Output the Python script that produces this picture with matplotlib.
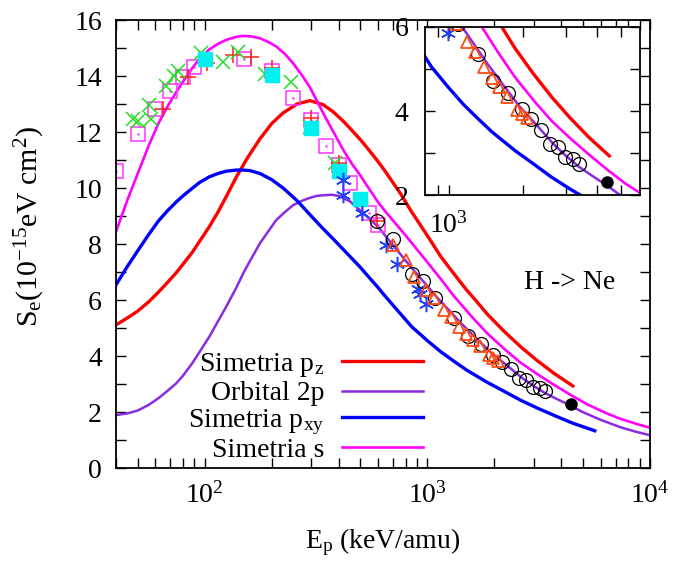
import matplotlib
matplotlib.use("Agg")
import matplotlib.pyplot as plt
from matplotlib.legend import Legend
from matplotlib.ticker import NullFormatter, FixedLocator

plt.rcParams["font.family"] = ["Liberation Serif", "DejaVu Serif"]
plt.rcParams["mathtext.fontset"] = "custom"
plt.rcParams["mathtext.rm"] = "Liberation Serif"
plt.rcParams["mathtext.it"] = "Liberation Serif:italic"
plt.rcParams["mathtext.default"] = "regular"

# ---- theoretical stopping curves (keV/amu, 1e-15 eV cm^2) ----
x_pz = [40, 45, 50, 56, 62, 68, 74.5, 80, 88, 95, 105, 115, 125, 139, 155, 177, 200,
        225, 260, 297, 340, 378, 420, 450, 500, 535, 600, 640, 700, 755, 850, 1000,
        1150, 1313, 1500, 1644, 1857, 2200, 2625, 3100, 3707, 4500]
y_pz = [5.11, 5.36, 5.6, 5.93, 6.28, 6.62, 6.97, 7.28, 7.7, 8.1, 8.62, 9.15, 9.69,
        10.4, 11.05, 11.75, 12.3, 12.68, 13.0, 13.12, 12.98, 12.72, 12.38, 12.13, 11.73,
        11.45, 10.95, 10.65, 10.2, 9.82, 9.15, 8.3, 7.55, 6.95, 6.36, 6.0, 5.5, 4.9,
        4.33, 3.85, 3.38, 2.93]

x_2p = [40, 45, 50, 56, 62, 68, 74.5, 80, 88, 95, 105, 115, 125, 139, 149, 160, 177,
        195, 210, 230, 250, 275, 297, 320, 342, 370, 400, 450, 516, 600, 681, 760, 850,
        1000, 1118, 1313, 1430, 1650, 1945, 2250, 2650, 3000, 3390, 3850, 4340, 4980,
        6000, 7400, 8600, 10000]
y_2p = [1.89, 1.95, 2.05, 2.25, 2.49, 2.75, 3.02, 3.3, 3.74, 4.15, 4.69, 5.25, 5.76,
        6.45, 6.95, 7.4, 8.02, 8.5, 8.86, 9.15, 9.39, 9.55, 9.65, 9.72, 9.74, 9.76,
        9.72, 9.52, 9.1, 8.62, 8.08, 7.62, 7.15, 6.5, 6.05, 5.46, 5.14, 4.65, 4.10,
        3.7, 3.23, 2.93, 2.67, 2.45, 2.25, 2.0, 1.72, 1.45, 1.3, 1.17]

x_pxy = [40, 45, 50, 56, 62, 68, 74.5, 80, 88, 95, 105, 115, 125, 139, 150, 160, 177,
         200, 225, 260, 297, 340, 378, 420, 450, 500, 535, 600, 640, 700, 755, 850,
         1000, 1150, 1313, 1500, 1857, 2200, 2625, 3100, 3707, 4500, 5650]
y_pxy = [6.54, 7.2, 7.75, 8.33, 8.82, 9.18, 9.5, 9.72, 9.99, 10.2, 10.4, 10.52, 10.6,
         10.64, 10.64, 10.62, 10.52, 10.3, 10.0, 9.55, 9.05, 8.55, 8.18, 7.8, 7.55,
         7.17, 6.9, 6.45, 6.18, 5.82, 5.52, 5.05, 4.55, 4.15, 3.82, 3.5, 3.06, 2.75,
         2.42, 2.15, 1.88, 1.6, 1.33]

x_s = [40, 45, 50, 56, 62, 68, 74.5, 80, 88, 95, 105, 115, 125, 139, 149, 160, 177,
       195, 210, 230, 250, 275, 297, 320, 350, 385, 420, 460, 500, 550, 600, 650, 700,
       800, 900, 1000, 1150, 1313, 1585, 1857, 2239, 2625, 3162, 3707, 4467, 5236,
       6310, 7400, 8913, 10000]
y_s = [8.44, 9.57, 10.5, 11.5, 12.3, 12.9, 13.42, 13.8, 14.28, 14.62, 14.95, 15.15,
       15.29, 15.4, 15.43, 15.42, 15.35, 15.2, 15.05, 14.78, 14.45, 14.0, 13.6, 13.1,
       12.5, 11.9, 11.35, 10.85, 10.45, 9.95, 9.5, 9.15, 8.85, 8.3, 7.8, 7.35, 6.75,
       6.15, 5.4, 4.81, 4.22, 3.76, 3.32, 2.97, 2.58, 2.27, 1.97, 1.75, 1.55, 1.44]

# ---- experimental data ----
x_sq = [40, 50, 60, 70, 80, 90, 150, 200, 250, 300, 350, 400, 450, 550, 600]
y_sq = [10.62, 11.92, 12.81, 13.48, 13.95, 14.31, 14.61, 14.19, 13.21, 12.43, 11.5,
        10.82, 10.17, 9.12, 8.68]

x_plus = [65, 84, 102, 134, 162, 200, 300, 400, 597]
y_plus = [12.81, 13.95, 14.45, 14.75, 14.67, 14.3, 12.49, 10.88, 8.83]

x_cross = [47.6, 50, 56, 57.5, 67, 72.5, 75.8, 96.6, 121, 141, 186, 244, 297, 385]
y_cross = [12.45, 12.4, 12.96, 12.45, 13.64, 14.0, 14.19, 14.81, 14.51, 14.87, 14.07,
           13.77, 12.19, 10.9]

x_cyan = [100, 200, 300, 400, 500]
y_cyan = [14.61, 14.04, 12.13, 10.62, 9.6]

x_star = [420, 420, 510, 655, 730, 905, 930, 990]
y_star = [10.3, 9.75, 9.12, 7.95, 7.28, 6.4, 6.2, 5.85]

x_circ = [597, 700, 850, 960, 1087, 1312, 1520, 1747, 1977, 2168, 2378, 2583, 2772,
          2970, 3207, 3390]
y_circ = [8.83, 8.17, 6.93, 6.67, 6.06, 5.35, 4.72, 4.44, 4.04, 3.8, 3.55, 3.21, 3.14,
          2.91, 2.85, 2.75]

x_tri = [700, 800, 867, 990, 1070, 1189, 1283, 1386, 1497, 1606, 1730, 1898, 1977, 2081]
y_tri = [7.96, 7.43, 6.83, 6.36, 6.06, 5.65, 5.41, 5.05, 4.78, 4.58, 4.34, 4.02, 3.93,
         3.83]

x_dot = [4400]
y_dot = [2.3]

FS = 20
C_PZ, C_2P, C_PXY, C_S = "#ff0000", "#8a2be2", "#0000ff", "#ff00ff"


def draw(ax):
    lines = []
    lines.append(ax.plot(x_pz, y_pz, color=C_PZ, lw=2.4, label=r"Simetria p$_z$")[0])
    lines.append(ax.plot(x_2p, y_2p, color=C_2P, lw=1.8, label="Orbital 2p")[0])
    lines.append(ax.plot(x_pxy, y_pxy, color=C_PXY, lw=2.4, label=r"Simetria p$_{xy}$")[0])
    lines.append(ax.plot(x_s, y_s, color=C_S, lw=1.9, label="Simetria s")[0])
    ax.plot(x_sq, y_sq, ls="none", marker="s", mfc="none", mec="#ff33ff", ms=9.5, mew=1.1)
    ax.plot(x_sq, y_sq, ls="none", marker=".", ms=1.5, color="#ff33ff")
    ax.plot(x_plus, y_plus, ls="none", marker="+", color="#ff2020", ms=11, mew=1.1)
    ax.plot(x_cross, y_cross, ls="none", marker="x", color="#22dd22", ms=10, mew=1.1)
    ax.plot(x_cyan, y_cyan, ls="none", marker="s", color="#00f0f0", ms=10)
    ax.plot(x_star, y_star, ls="none", marker=(6, 2, 0), color="#2040ff", ms=11, mew=1.1)
    ax.plot(x_circ, y_circ, ls="none", marker="o", mfc="none", mec="black", ms=10, mew=0.9)
    ax.plot(x_tri, y_tri, ls="none", marker="^", mfc="none", mec="#ff4a10", ms=8, mew=1.3)
    ax.plot(x_dot, y_dot, ls="none", marker="o", color="black", ms=8)
    return lines


fig = plt.figure(figsize=(6.83, 5.61), dpi=100)
ax = fig.add_axes([116 / 683, 1 - 468 / 561, 534 / 683, 448 / 561])
lines = draw(ax)
ax.set_xscale("log")
ax.set_xlim(40, 1e4)
ax.set_ylim(0, 16)
ax.set_yticks(range(0, 17, 2))
ax.set_yticks(range(1, 17, 2), minor=True)
ax.xaxis.set_minor_formatter(NullFormatter())
ax.tick_params(which="both", direction="in", top=True, right=True, length=7,
               width=1, labelsize=FS, pad=10)
for s in ax.spines.values():
    s.set_linewidth(1.3)
ax.set_xlabel(r"E$_p$ (keV/amu)", fontsize=FS)
ax.set_ylabel(r"S$_e$(10$^{-15}$eV cm$^2$)", fontsize=21.5)
ax.xaxis.set_label_coords(0.5, -0.13)
ax.yaxis.set_label_coords(-0.13, 0.54)

ax.text(0.85, 0.415, "H -> Ne", transform=ax.transAxes, ha="center", va="center",
        fontsize=FS)

# one key per row so the rows are evenly spaced, text right-aligned before the line
key_rows = [0.231, 0.166, 0.103, 0.040]
for line, yrow in zip(lines, key_rows):
    leg = Legend(ax, [line], [line.get_label()], loc="center right",
                 bbox_to_anchor=(0.575, yrow), frameon=False, markerfirst=False,
                 handlelength=2.9, handletextpad=0.65, borderpad=0, borderaxespad=0,
                 fontsize=FS)
    ax.add_artist(leg)

# ---- inset: high-energy region ----
ins = fig.add_axes([425 / 683, 1 - 195 / 561, 215 / 683, 168 / 561])
draw(ins)
ins.set_xscale("log")
ins.set_xlim(800, 6000)
ins.set_ylim(2, 6)
ins.set_yticks([2, 4, 6])
ins.set_yticks([3, 5], minor=True)
ins.xaxis.set_major_locator(FixedLocator([1000]))
ins.xaxis.set_minor_locator(FixedLocator([900, 2000, 3000, 4000, 5000]))
ins.xaxis.set_minor_formatter(NullFormatter())
ins.tick_params(which="both", direction="in", top=True, right=True, length=7,
                width=1, labelsize=FS, pad=12)
for s in ins.spines.values():
    s.set_linewidth(1.3)

fig.savefig("out.png", dpi=100)
